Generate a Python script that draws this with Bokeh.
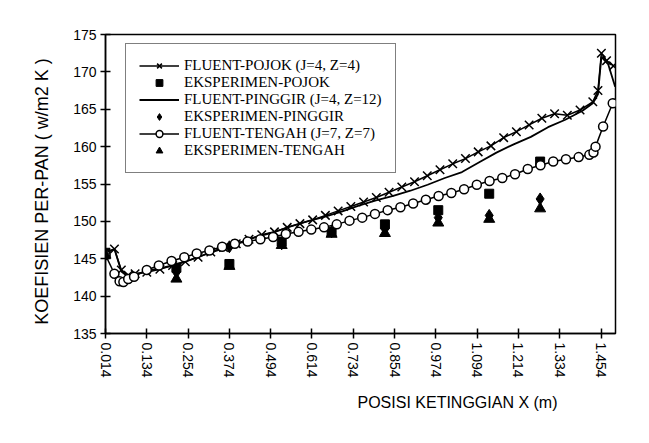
from bokeh.plotting import figure
from bokeh.models import FixedTicker, Legend, LegendItem, Title
from bokeh.embed import file_html
from bokeh.resources import INLINE

# ---- data ----
x_ticks = [0.014, 0.134, 0.254, 0.374, 0.494, 0.614, 0.734, 0.854, 0.974, 1.094, 1.214, 1.334, 1.454]
x_tick_labels = ["0.014", "0.134", "0.254", "0.374", "0.494", "0.614", "0.734", "0.854", "0.974", "1.094", "1.214", "1.334", "1.454"]
y_ticks = [135, 140, 145, 150, 155, 160, 165, 170, 175]

pojok_x = [0.014, 0.04, 0.06, 0.08, 0.1, 0.134, 0.172, 0.209, 0.246, 0.283, 0.32, 0.357, 0.394, 0.431,
           0.468, 0.505, 0.542, 0.579, 0.616, 0.653, 0.69, 0.727, 0.764, 0.801, 0.838, 0.875, 0.912,
           0.949, 0.986, 1.023, 1.06, 1.097, 1.134, 1.171, 1.208, 1.245, 1.282, 1.319, 1.356, 1.393,
           1.43, 1.445, 1.455, 1.47, 1.49]
pojok_y = [145.8, 146.3, 143.5, 142.8, 143.0, 143.2, 143.6, 144.1, 144.6, 145.2, 145.9, 146.5, 147.0, 147.6,
           148.2, 148.6, 149.2, 149.7, 150.2, 150.8, 151.4, 152.0, 152.6, 153.2, 153.9, 154.6, 155.3,
           156.1, 156.9, 157.7, 158.4, 159.3, 160.1, 161.2, 162.0, 162.9, 163.8, 164.4, 164.2, 164.9,
           166.0, 167.5, 172.5, 171.5, 170.8]

pinggir_x = [0.014, 0.04, 0.06, 0.08, 0.1, 0.15, 0.2, 0.25, 0.3, 0.35, 0.4, 0.45, 0.5, 0.55, 0.6, 0.65,
             0.7, 0.75, 0.8, 0.85, 0.9, 0.95, 1.0, 1.05, 1.1, 1.15, 1.2, 1.25, 1.3, 1.35, 1.4, 1.43,
             1.445, 1.455, 1.475, 1.495]
pinggir_y = [145.8, 146.3, 143.3, 142.6, 142.9, 143.5, 144.0, 144.7, 145.5, 146.3, 147.1, 147.9, 148.5,
             149.3, 150.0, 150.6, 151.3, 152.1, 152.8, 153.4, 154.1, 154.9, 155.8, 156.6, 157.9, 159.2,
             160.3, 161.3, 162.6, 163.6, 164.8, 165.8, 167.0, 172.0, 171.0, 168.0]

tengah_x = [0.014, 0.04, 0.055, 0.066, 0.08, 0.097, 0.134, 0.169, 0.206, 0.243, 0.279, 0.316, 0.353,
            0.39, 0.427, 0.464, 0.501, 0.538, 0.575, 0.612, 0.649, 0.686, 0.723, 0.76, 0.797, 0.834,
            0.871, 0.908, 0.945, 0.982, 1.019, 1.056, 1.093, 1.13, 1.167, 1.204, 1.241, 1.278, 1.315,
            1.352, 1.389, 1.42, 1.432, 1.438, 1.46, 1.488]
tengah_y = [145.5, 143.0, 142.0, 141.9, 142.3, 142.6, 143.5, 144.1, 144.7, 145.2, 145.7, 146.1, 146.6,
            147.0, 147.3, 147.6, 147.9, 148.3, 148.6, 148.9, 149.2, 149.6, 150.1, 150.5, 151.0, 151.5,
            151.9, 152.4, 152.9, 153.4, 153.8, 154.3, 154.9, 155.4, 155.8, 156.3, 157.0, 157.5, 158.0,
            158.3, 158.6, 158.9, 159.2, 160.0, 162.7, 165.8]

exp_x = [0.014, 0.22, 0.374, 0.526, 0.671, 0.826, 0.981, 1.129, 1.277]
exp_pojok = [145.8, 143.8, 144.3, 147.3, 148.6, 149.6, 151.5, 153.7, 158.0]
exp_pinggir = [145.6, 143.2, 146.6, 147.0, 148.6, 149.0, 150.5, 150.8, 153.0]
exp_tengah = [145.5, 142.3, 144.0, 146.8, 148.3, 148.4, 149.8, 150.3, 151.7]

FONT = "Liberation Sans"
SERIF = "Liberation Serif"

p = figure(frame_width=510, frame_height=299,
           min_border_left=105, min_border_right=34, min_border_top=34, min_border_bottom=110,
           x_range=(0.014, 1.496), y_range=(135, 175),
           output_backend="svg", toolbar_location=None, background_fill_color="white",
           border_fill_color="white")

p.xgrid.visible = False
p.ygrid.visible = False
p.outline_line_color = "black"
p.outline_line_width = 1.5

# axes
p.xaxis.ticker = FixedTicker(ticks=x_ticks)
p.xaxis.major_label_overrides = {t: l for t, l in zip(x_ticks, x_tick_labels)}
p.xaxis.major_label_orientation = "vertical"
p.yaxis.ticker = FixedTicker(ticks=y_ticks)
for ax in (p.xaxis, p.yaxis):
    ax.axis_line_color = "black"
    ax.axis_line_width = 1.5
    ax.major_tick_line_color = "black"
    ax.major_tick_line_width = 1.5
    ax.major_tick_in = 5
    ax.major_tick_out = 5
    ax.minor_tick_line_color = None
    ax.major_label_text_font = FONT
    ax.major_label_text_font_size = "14px"
    ax.major_label_text_color = "black"
    ax.major_label_standoff = 4

p.yaxis.axis_label = "KOEFISIEN  PER-PAN   ( w/m2 K )"
p.yaxis.axis_label_text_font = FONT
p.yaxis.axis_label_text_font_size = "18px"
p.yaxis.axis_label_text_font_style = "normal"
p.yaxis.axis_label_text_color = "black"
p.yaxis.axis_label_standoff = 18

xtitle = Title(text="POSISI KETINGGIAN X  (m)", align="left", offset=252, standoff=22,
               text_font=FONT, text_font_size="16px", text_font_style="normal", text_color="black")
p.add_layout(xtitle, "below")

# FLUENT-POJOK
r_pj_line = p.line(pojok_x, pojok_y, line_color="black", line_width=1.5)
r_pj_mark = p.scatter(pojok_x, pojok_y, marker="x", size=12, line_color="black", line_width=1.5)
# EKSPERIMEN-POJOK
r_ep = p.scatter(exp_x, exp_pojok, marker="square", size=9, fill_color="black", line_color="black")
# FLUENT-PINGGIR
r_pg_line = p.line(pinggir_x, pinggir_y, line_color="black", line_width=1.8)
# EKSPERIMEN-PINGGIR
r_eg = p.scatter(exp_x, exp_pinggir, marker="diamond", size=12, fill_color="black", line_color="black")
# FLUENT-TENGAH
r_tg_line = p.line(tengah_x, tengah_y, line_color="black", line_width=1.5)
r_tg_mark = p.scatter(tengah_x, tengah_y, marker="circle", size=9, fill_color="white",
                      line_color="black", line_width=1.5)
# EKSPERIMEN-TENGAH
r_et = p.scatter(exp_x, exp_tengah, marker="triangle", size=11, fill_color="black", line_color="black")

legend = Legend(items=[
    LegendItem(label="FLUENT-POJOK (J=4, Z=4)", renderers=[r_pj_line, r_pj_mark]),
    LegendItem(label="EKSPERIMEN-POJOK", renderers=[r_ep]),
    LegendItem(label="FLUENT-PINGGIR (J=4, Z=12)", renderers=[r_pg_line]),
    LegendItem(label="EKSPERIMEN-PINGGIR", renderers=[r_eg]),
    LegendItem(label="FLUENT-TENGAH (J=7, Z=7)", renderers=[r_tg_line, r_tg_mark]),
    LegendItem(label="EKSPERIMEN-TENGAH", renderers=[r_et]),
], location=(20, 160))
legend.label_text_font = SERIF
legend.label_text_font_size = "15px"
legend.label_text_color = "black"
legend.glyph_width = 40
legend.glyph_height = 17
legend.label_height = 17
legend.label_width = 184
legend.label_standoff = 5
legend.spacing = 0
legend.padding = 13
legend.margin = 0
legend.border_line_color = "black"
legend.border_line_width = 1.5
legend.background_fill_color = "white"
legend.background_fill_alpha = 1.0
p.add_layout(legend)

open("out.html", "w").write(file_html(p, INLINE))
